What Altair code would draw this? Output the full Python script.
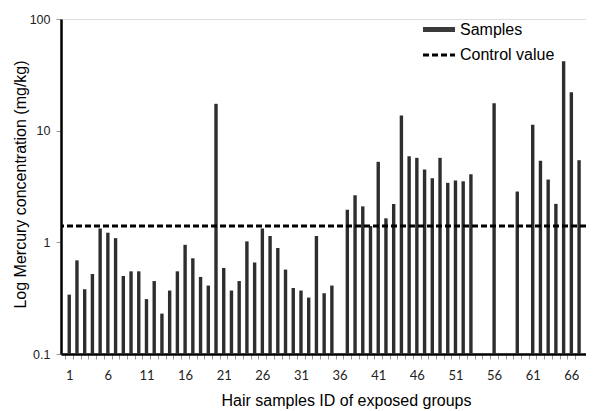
import altair as alt
import pandas as pd

# ---- data ----
SAMPLE_IDS = list(range(1, 68))
MERCURY = [0.34, 0.69, 0.38, 0.52, 1.33, 1.22, 1.09, 0.50, 0.55, 0.55,
           0.31, 0.45, 0.23, 0.37, 0.55, 0.95, 0.72, 0.49, 0.41, 17.4,
           0.59, 0.37, 0.45, 1.02, 0.66, 1.33, 1.14, 0.89, 0.57, 0.39,
           0.37, 0.32, 1.14, 0.35, 0.41, None, 1.96, 2.64, 2.10, 1.40,
           5.26, 1.64, 2.21, 13.7, 5.90, 5.71, 4.49, 3.75, 5.71, 3.41,
           3.58, 3.52, 4.07, None, None, 17.6, None, None, 2.85, None,
           11.3, 5.37, 3.65, 2.21, 41.8, 22.1, 5.44]
CONTROL_VALUE = 1.4
Y_TICKS = [0.1, 1, 10, 100]
X_LABELLED = [1, 6, 11, 16, 21, 26, 31, 36, 41, 46, 51, 56, 61, 66]
LEGEND_LABELS = ["Samples", "Control value"]

W, H = 525, 335

df = pd.DataFrame({"id": SAMPLE_IDS, "hg": MERCURY}).dropna()
df["base"] = 0.1

x_scale = alt.Scale(domain=[0.581, 67.25], nice=False, zero=False)
y_scale = alt.Scale(type="log", domain=[0.1, 100], nice=False)

label_expr = "indexof([" + ",".join(str(v) for v in X_LABELLED) + "], datum.value) >= 0 ? datum.label : ''"

bars = alt.Chart(df).mark_bar(size=3.4, color="#2e2e2e").encode(
    x=alt.X("id:Q", scale=x_scale,
            axis=alt.Axis(values=SAMPLE_IDS, labelExpr=label_expr, labelOverlap=False,
                          tickOffset=-4, labelOffset=4, tickSize=5, tickColor="#999",
                          tickWidth=1, domainColor="black", domainWidth=2.5,
                          labelFont="Lato", labelFontSize=13, labelColor="#222",
                          labelPadding=10, grid=False,
                          title="Hair samples ID of exposed groups",
                          titleFont="Liberation Sans", titleFontSize=16,
                          titleFontWeight="normal", titleColor="black",
                          titleX=285, titleY=51, titleBaseline="alphabetic")),
    y=alt.Y("hg:Q", scale=y_scale,
            axis=alt.Axis(values=Y_TICKS, format="~g", tickSize=5, tickColor="#999",
                          tickWidth=1, domainColor="black", domainWidth=2.5,
                          labelFont="Liberation Sans", labelFontSize=12.5,
                          labelColor="#222", labelPadding=6, grid=False,
                          title="Log Mercury concentration (mg/kg)",
                          titleFont="Liberation Sans", titleFontSize=16,
                          titleFontWeight="normal", titleColor="black",
                          titleX=-33, titleY=165)),
    y2="base:Q",
)

ctrl_df = pd.DataFrame({"v": [CONTROL_VALUE]})
control = alt.Chart(ctrl_df).mark_rule(color="black", strokeWidth=3, strokeDash=[6, 3]).encode(
    y=alt.Y("v:Q", scale=y_scale)
)

leg_df = pd.DataFrame({"label": LEGEND_LABELS})
sw_bar = alt.Chart(leg_df.iloc[[0]]).mark_rule(color="#3a3a3a", strokeWidth=5).encode(
    x=alt.value(362), x2=alt.value(394), y=alt.value(10.5)
)
sw_dash = alt.Chart(leg_df.iloc[[1]]).mark_rule(color="black", strokeWidth=3, strokeDash=[6, 3]).encode(
    x=alt.value(362), x2=alt.value(394), y=alt.value(36)
)
txt1 = alt.Chart(leg_df.iloc[[0]]).mark_text(align="left", baseline="alphabetic",
                                             font="Liberation Sans", fontSize=16, color="black").encode(
    x=alt.value(399), y=alt.value(15.5), text="label:N"
)
txt2 = alt.Chart(leg_df.iloc[[1]]).mark_text(align="left", baseline="alphabetic",
                                             font="Liberation Sans", fontSize=16, color="black").encode(
    x=alt.value(399), y=alt.value(40.5), text="label:N"
)

chart = alt.layer(bars, control, sw_bar, sw_dash, txt1, txt2).properties(
    width=W, height=H,
    autosize=alt.AutoSizeParams(type="none"),
    padding={"left": 53, "top": 11, "right": 0, "bottom": 56},
).configure_view(stroke=None).configure(background="white")

chart.save("out.html", embed_options={"renderer": "svg", "actions": False})
